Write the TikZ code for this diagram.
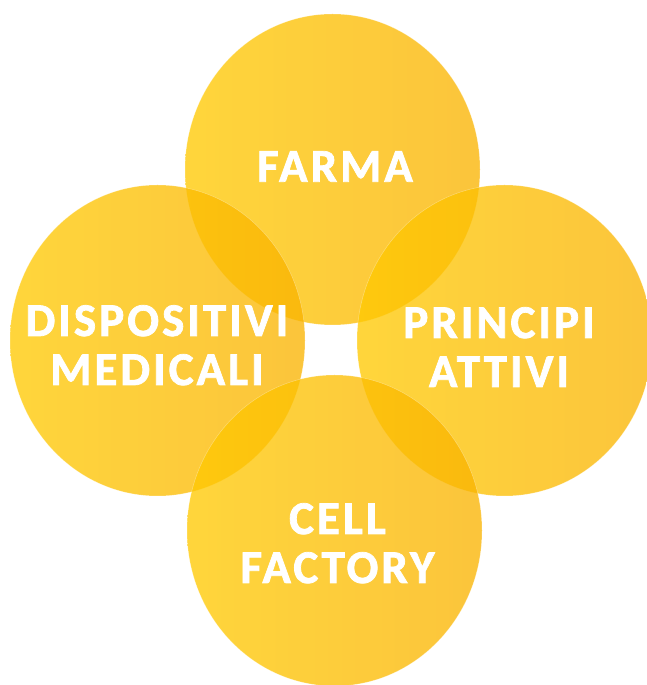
\documentclass[tikz,border=0pt]{standalone}
\usepackage{fontspec}
\usetikzlibrary{shapes.geometric}
\newfontfamily\labfont[LetterSpace=6.5, FakeBold=1.6]{Carlito Bold}
\definecolor{yelL}{RGB}{255,201,0}
\definecolor{yelR}{RGB}{250,179,0}
\begin{document}
\begin{tikzpicture}[x=1pt,y=1pt,
  blob/.style={ellipse, minimum width=295pt, minimum height=311pt, inner sep=0pt,
    left color=yelL, right color=yelR, fill opacity=0.77, draw=white, draw opacity=0.35, line width=0.5pt},
  lbl/.style={text=white, font=\labfont\fontsize{47}{49}\selectfont, align=center, anchor=base, inner sep=0pt}]
\useasboundingbox (0,0) rectangle (647,685);
\begin{scope}
\clip (0,0) rectangle (647,685);
\node[blob] (T) at (332.5,515.5) {};
\node[blob] (L) at (157.5,344.5) {};
\node[blob] (R) at (504.5,344.5) {};
\node[blob] (B) at (334.5,154.5) {};
\end{scope}
\node[lbl] (tT) at (335,503.3) {FARMA};
\node[lbl] (tL) at (157,300) {DISPOSITIVI\\MEDICALI};
\node[lbl] (tR) at (499,298) {PRINCIPI\\ATTIVI};
\node[lbl] (tB) at (337.5,102) {CELL\\FACTORY};
\end{tikzpicture}
\end{document}
